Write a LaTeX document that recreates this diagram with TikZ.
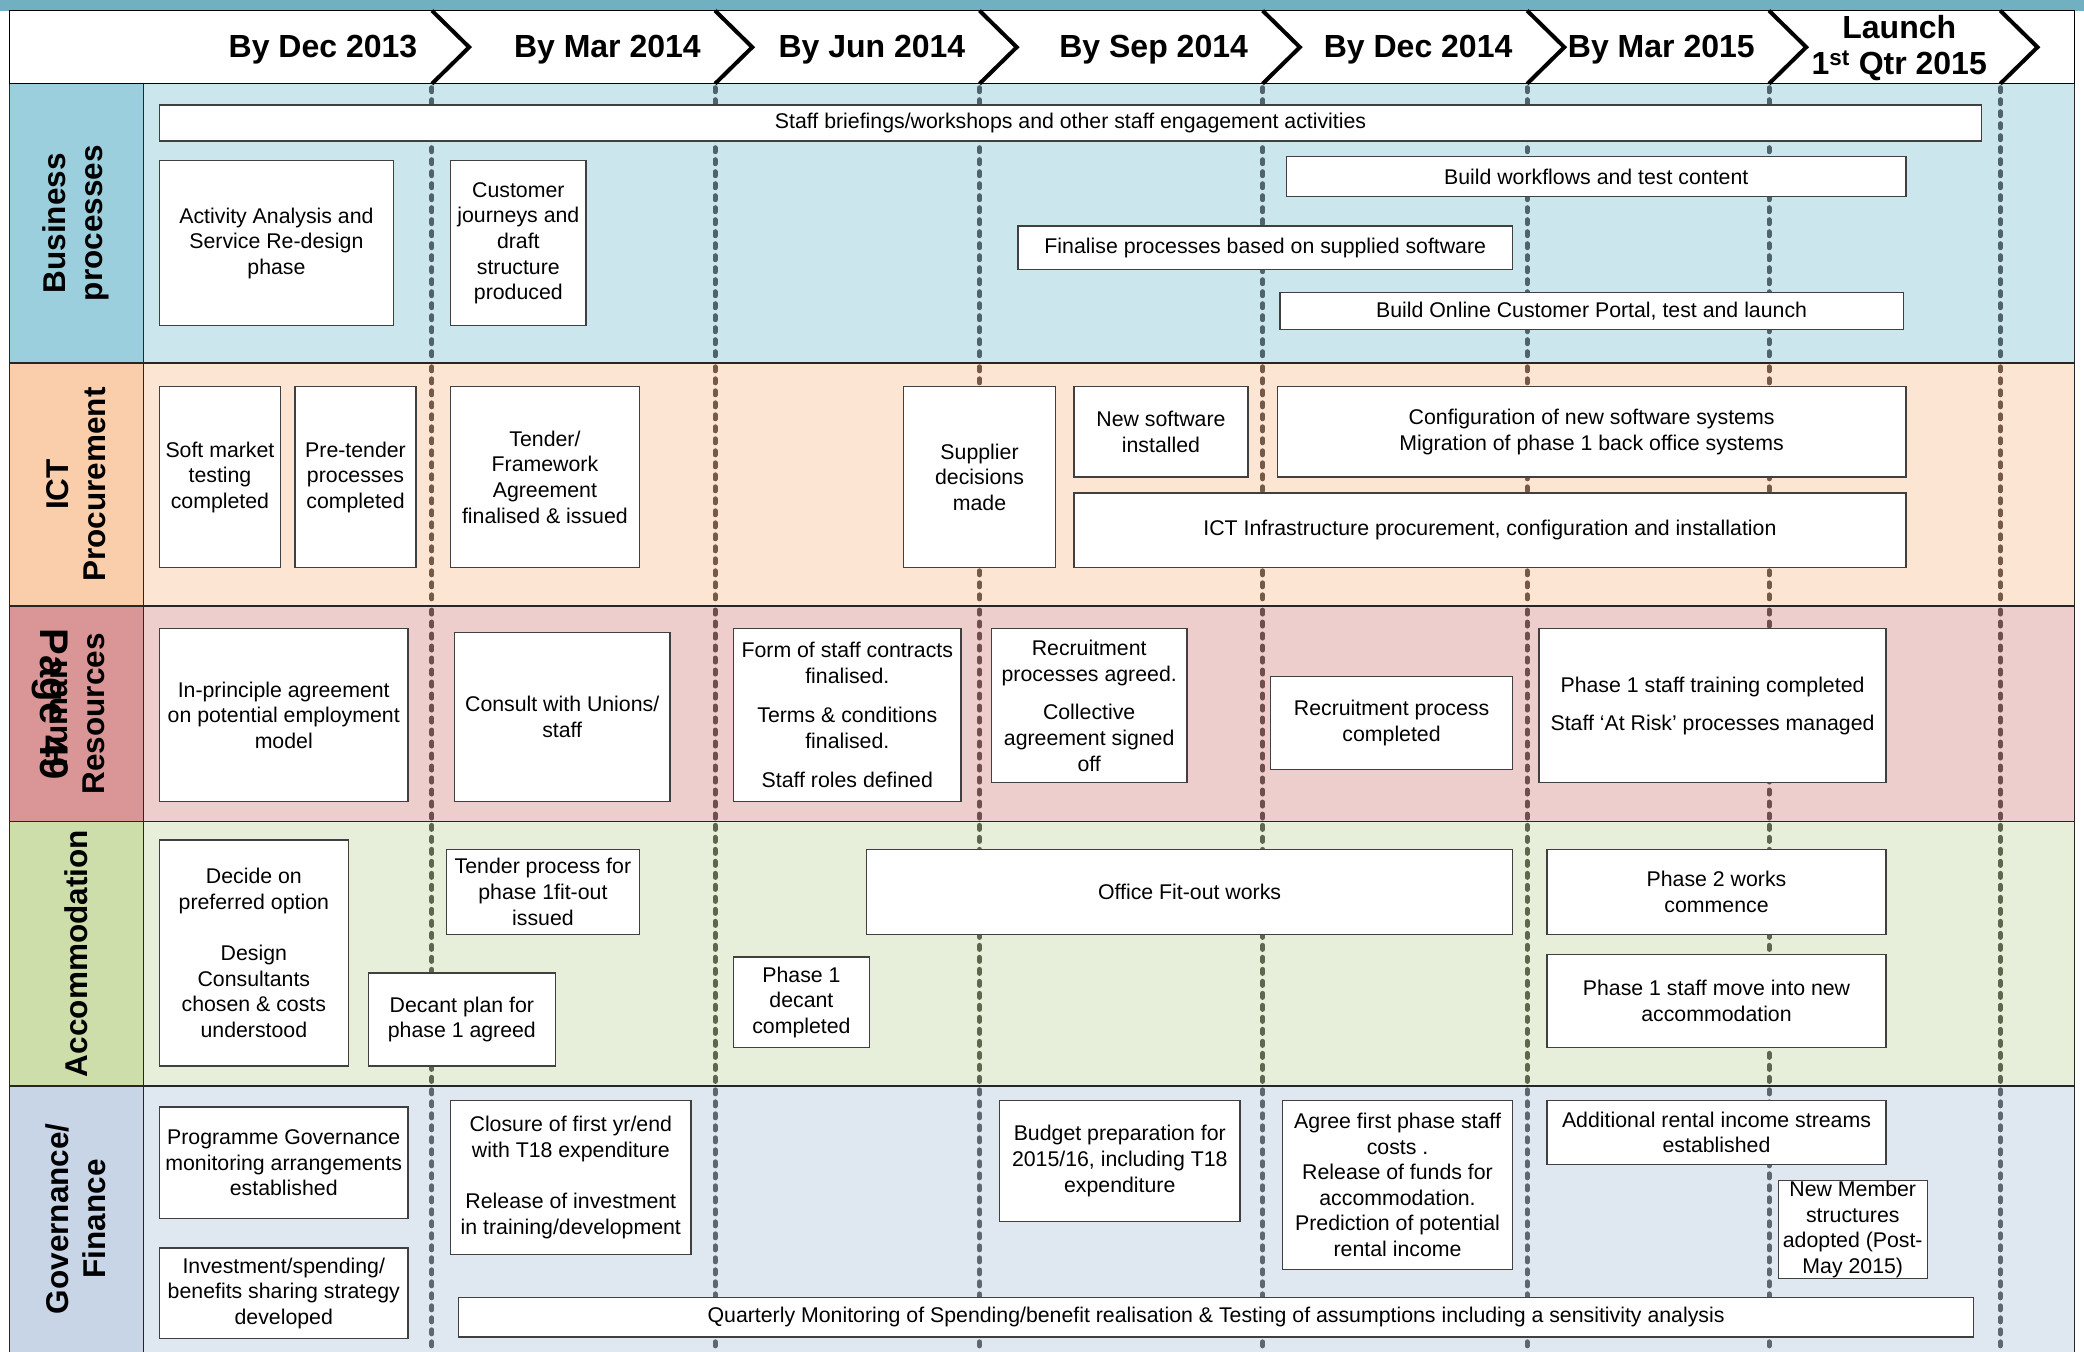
\documentclass[tikz,border=0pt]{standalone}
\usepackage{fontspec}
\setmainfont{Liberation Sans}
\definecolor{topbar}{RGB}{112,176,193}
\definecolor{bplab}{RGB}{155,207,221}
\definecolor{bpband}{RGB}{203,231,237}
\definecolor{bpdash}{RGB}{80,98,108}
\definecolor{ictlab}{RGB}{250,206,170}
\definecolor{ictband}{RGB}{253,229,212}
\definecolor{ictdash}{RGB}{118,90,72}
\definecolor{hrlab}{RGB}{218,150,150}
\definecolor{hrband}{RGB}{238,205,205}
\definecolor{hrdash}{RGB}{112,78,78}
\definecolor{acclab}{RGB}{205,222,170}
\definecolor{accband}{RGB}{231,239,218}
\definecolor{accdash}{RGB}{95,102,78}
\definecolor{govlab}{RGB}{199,213,230}
\definecolor{govband}{RGB}{223,231,241}
\definecolor{govdash}{RGB}{95,102,112}
\definecolor{boxline}{RGB}{64,64,64}
\tikzset{
 tbox/.style={draw=boxline, fill=white, line width=1.3pt, align=center, inner sep=0pt, font=\fontsize{21.3}{25.6}\selectfont, text=black},
 hdr/.style={font=\fontsize{32}{36}\selectfont\bfseries, align=center, inner sep=0pt},
 lab/.style={font=\fontsize{31.5}{37}\selectfont\bfseries, align=center, inner sep=0pt, rotate=90},
 vdash/.style={line width=5pt, line cap=round, dash pattern=on 4pt off 8pt},
 chev/.style={line width=4pt, line join=miter},
 sepline/.style={line width=1.5pt, draw=black!85},
}
\newcommand{\tlbox}[6]{\node[tbox, minimum width={(#4-#2)*1.3291pt}, minimum height={(#5-#3)*1.3291pt}] (#1) at ({(#2+#4)/2},{(#3+#5)/2}) {#6};}
\begin{document}
\begin{tikzpicture}[x=1.3291pt,y=-1.3291pt]
\useasboundingbox (0,0) rectangle (1568,1017);
\fill[white] (0,0) rectangle (1568,1017);
\fill[topbar] (0,0) rectangle (1568,8);
% bands
\fill[bplab] (7,63) rectangle (108,273);
\fill[bpband] (108,63) rectangle (1561,273);
\fill[ictlab] (7,273) rectangle (108,456);
\fill[ictband] (108,273) rectangle (1561,456);
\fill[hrlab] (7,456) rectangle (108,618);
\fill[hrband] (108,456) rectangle (1561,618);
\fill[acclab] (7,618) rectangle (108,817);
\fill[accband] (108,618) rectangle (1561,817);
\fill[govlab] (7,817) rectangle (108,1017);
\fill[govband] (108,817) rectangle (1561,1017);
% dashed milestone lines
\foreach \x in {325,538,737,950,1149,1331,1505}{
 \draw[vdash, bpdash] (\x,66) -- (\x,272);
 \draw[vdash, ictdash] (\x,276) -- (\x,455);
 \draw[vdash, hrdash] (\x,459) -- (\x,617);
 \draw[vdash, accdash] (\x,621) -- (\x,816);
 \draw[vdash, govdash] (\x,820) -- (\x,1017);
}
% grid lines
\draw[sepline] (7,273) -- (1561,273);
\draw[sepline] (7,456) -- (1561,456);
\draw[sepline] (7,618) -- (1561,618);
\draw[sepline] (7,817) -- (1561,817);
\draw[sepline] (108,63) -- (108,1017);
\draw[sepline] (7,8) -- (7,1017);
\draw[sepline] (1561,8) -- (1561,1017);
% header
\draw[line width=1.5pt, fill=white] (7,8) rectangle (1561,63);
\foreach \x in {325,538,737,950,1149,1331,1505}{
 \draw[chev] (\x,8) -- (\x+28,35.5) -- (\x,63);
}
\node[hdr] (h1) at (243,37) {By Dec 2013};
\node[hdr] (h2) at (457,37) {By Mar 2014};
\node[hdr] (h3) at (656,37) {By Jun 2014};
\node[hdr] (h4) at (868,37) {By Sep 2014};
\node[hdr] (h5) at (1067,37) {By Dec 2014};
\node[hdr] (h6) at (1250,37) {By Mar 2015};
\node[hdr] (h7) at (1429,36) {Launch\\1\textsuperscript{st} Qtr 2015};
% row labels
\node[lab] (lbp) at (57,168) {Business\\processes};
\node[lab] (lict) at (57,364.5) {ICT\\Procurement};
\node[lab] (lhr) at (57,537) {Human\\Resources};
\node[font=\fontsize{40}{44}\selectfont\bfseries, inner sep=0pt, rotate=-90] (lpage) at (37.5,530) {Page 49};
\node[lab] (lacc) at (57,717.5) {Accommodation};
\node[lab] (lgov) at (57,917) {Governance/\\Finance};
% Business processes
\tlbox{staff}{120}{79}{1491}{106}{Staff briefings/workshops and other staff engagement activities}
\tlbox{activity}{120}{121}{296}{245}{Activity Analysis and\\Service Re-design\\phase}
\tlbox{journeys}{339}{121}{441}{245}{Customer\\journeys and\\draft\\structure\\produced}
\tlbox{workflows}{968}{118}{1434}{148}{Build workflows and test content}
\tlbox{finalise}{766}{170}{1138}{203}{Finalise processes based on supplied software}
\tlbox{portal}{963}{220}{1432}{248}{Build Online Customer Portal, test and launch}
% ICT
\tlbox{soft}{120}{291}{211}{427}{Soft market\\testing\\completed}
\tlbox{pretender}{222}{291}{313}{427}{Pre-tender\\processes\\completed}
\tlbox{tender}{339}{291}{481}{427}{Tender/\\Framework\\Agreement\\finalised \& issued}
\tlbox{supplier}{680}{291}{794}{427}{Supplier\\decisions\\made}
\tlbox{newsw}{808}{291}{939}{359}{New software\\installed}
\tlbox{config}{961}{291}{1434}{359}{Configuration of new software systems\\Migration of phase 1 back office systems}
\tlbox{infra}{808}{371}{1434}{427}{ICT Infrastructure procurement, configuration and installation}
% HR
\tlbox{inprinciple}{120}{473}{307}{603}{In-principle agreement\\on potential employment\\model}
\tlbox{consult}{342}{476}{504}{603}{Consult with Unions/\\staff}
\tlbox{contracts}{552}{473}{723}{603}{Form of staff contracts\\finalised.\\[14pt]Terms \& conditions\\finalised.\\[14pt]Staff roles defined}
\tlbox{recruit}{746}{473}{893}{589}{Recruitment\\processes agreed.\\[13pt]Collective\\agreement signed\\off}
\tlbox{recdone}{956}{509}{1138}{579}{Recruitment process\\completed}
\tlbox{training}{1158}{473}{1419}{589}{Phase 1 staff training completed\\[12pt]Staff ‘At Risk’ processes managed}
% Accommodation
\tlbox{decide}{120}{632}{262}{802}{Decide on\\preferred option\\[26pt]Design\\Consultants\\chosen \& costs\\understood}
\tlbox{decant}{277}{732}{418}{802}{Decant plan for\\phase 1 agreed}
\tlbox{tenderfit}{336}{639}{481}{703}{Tender process for\\phase 1fit-out\\issued}
\tlbox{pdecant}{552}{720}{654}{788}{Phase 1\\decant\\completed}
\tlbox{fitout}{652}{639}{1138}{703}{Office Fit-out works}
\tlbox{phasetwo}{1164}{639}{1419}{703}{Phase 2 works\\commence}
\tlbox{move}{1164}{718}{1419}{788}{Phase 1 staff move into new\\accommodation}
% Governance / Finance
\tlbox{progov}{120}{833}{307}{917}{Programme Governance\\monitoring arrangements\\established}
\tlbox{invest}{120}{939}{307}{1007}{Investment/spending/\\benefits sharing strategy\\developed}
\tlbox{closure}{339}{828}{520}{944}{Closure of first yr/end\\with T18 expenditure\\[26pt]Release of investment\\in training/development}
\tlbox{budget}{752}{828}{933}{919}{Budget preparation for\\2015/16, including T18\\expenditure}
\tlbox{agree}{965}{828}{1138}{955}{Agree first phase staff\\costs .\\Release of funds for\\accommodation.\\Prediction of potential\\rental income}
\tlbox{rental}{1164}{828}{1419}{876}{Additional rental income streams\\established}
\tlbox{member}{1338}{888}{1450}{962}{New Member\\structures\\adopted (Post-\\May 2015)}
\tlbox{quarterly}{345}{976}{1485}{1006}{Quarterly Monitoring of Spending/benefit realisation \& Testing of assumptions including a sensitivity analysis}
\end{tikzpicture}
\end{document}
